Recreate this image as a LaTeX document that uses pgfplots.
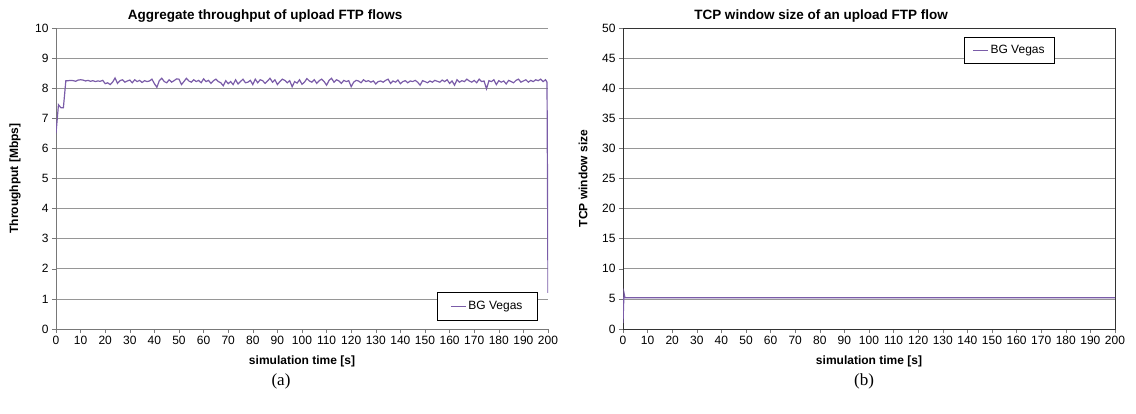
\documentclass[border=0pt]{standalone}
\usepackage{pgfplots}
\pgfplotsset{compat=1.18}
\usepackage{pgfplotstable}
\usepackage{fontspec}
\setmainfont{Liberation Sans}
\newfontfamily\seriffont{Liberation Serif}

\definecolor{vegas}{RGB}{122,92,168}
\definecolor{gridgray}{RGB}{150,150,150}
\definecolor{axgray}{RGB}{120,120,120}

% aggregate throughput [Mbps], 1 s samples
\pgfplotstableread{
t v
0 6.5
1 7.45
2 7.35
3 7.35
4 8.25
5 8.25
6 8.26
7 8.25
8 8.23
9 8.27
10 8.28
11 8.27
12 8.24
13 8.26
14 8.23
15 8.25
16 8.22
17 8.24
18 8.23
19 8.26
20 8.15
21 8.18
22 8.12
23 8.20
24 8.34
25 8.16
26 8.25
27 8.28
28 8.20
29 8.24
30 8.27
31 8.18
32 8.28
33 8.22
34 8.26
35 8.19
36 8.25
37 8.22
38 8.24
39 8.30
40 8.15
41 8.03
42 8.25
43 8.33
44 8.22
45 8.18
46 8.28
47 8.20
48 8.25
49 8.31
50 8.30
51 8.12
52 8.22
53 8.33
54 8.24
55 8.20
56 8.28
57 8.22
58 8.26
59 8.18
60 8.31
61 8.22
62 8.26
63 8.16
64 8.25
65 8.30
66 8.22
67 8.18
68 8.08
69 8.25
70 8.15
71 8.22
72 8.12
73 8.28
74 8.14
75 8.22
76 8.30
77 8.18
78 8.20
79 8.26
80 8.12
81 8.30
82 8.18
83 8.28
84 8.25
85 8.16
86 8.24
87 8.33
88 8.20
89 8.28
90 8.12
91 8.22
92 8.30
93 8.26
94 8.18
95 8.25
96 8.05
97 8.22
98 8.17
99 8.28
100 8.13
101 8.20
102 8.32
103 8.24
104 8.20
105 8.28
106 8.16
107 8.25
108 8.30
109 8.22
110 8.10
111 8.26
112 8.33
113 8.20
114 8.28
115 8.24
116 8.16
117 8.26
118 8.22
119 8.25
120 8.05
121 8.20
122 8.26
123 8.24
124 8.18
125 8.28
126 8.22
127 8.25
128 8.20
129 8.24
130 8.14
131 8.22
132 8.24
133 8.20
134 8.26
135 8.30
136 8.16
137 8.24
138 8.20
139 8.27
140 8.15
141 8.22
142 8.25
143 8.18
144 8.24
145 8.22
146 8.26
147 8.20
148 8.10
149 8.25
150 8.22
151 8.18
152 8.24
153 8.20
154 8.26
155 8.23
156 8.20
157 8.27
158 8.22
159 8.28
160 8.16
161 8.24
162 8.10
163 8.28
164 8.20
165 8.25
166 8.22
167 8.30
168 8.24
169 8.20
170 8.26
171 8.18
172 8.30
173 8.22
174 8.24
175 7.98
176 8.25
177 8.22
178 8.28
179 8.12
180 8.25
181 8.20
182 8.24
183 8.14
184 8.26
185 8.22
186 8.18
187 8.26
188 8.30
189 8.20
190 8.24
191 8.28
192 8.20
193 8.26
194 8.22
195 8.28
196 8.25
197 8.30
198 8.22
199 8.28
199.6 8.20
200 1.2
}\throughput

% TCP window size
\pgfplotstableread{
t v
0 1.0
0.4 6.0
0.8 5.2
50 5.2
100 5.2
150 5.2
200 5.2
}\cwnd

\pgfplotsset{
  chartstyle/.style={
    scale only axis,
    width=492pt, height=301pt,
    xmin=0, xmax=200,
    xtick distance=10,
    ymin=0,
    xtick pos=bottom, ytick pos=left,
    tick align=outside,
    major tick length=4pt,
    tick style={axgray, line width=0.6pt},
    ymajorgrids,
    grid style={gridgray, line width=0.8pt},
    tick label style={font=\fontsize{12}{14}\selectfont},
    /pgf/number format/assume math mode=true,
    xlabel={\bfseries simulation time [s]},
    label style={font=\fontsize{12}{14}\selectfont},
    xlabel style={yshift=-4pt},
    legend image code/.code={\draw[##1] (0pt,0pt) -- (15pt,0pt);},
    legend style={draw=black, line width=0.8pt, fill=white,
      font=\fontsize{12}{14}\selectfont,
      /tikz/every even column/.append style={column sep=0pt}},
  },
}

\begin{document}
\begin{tikzpicture}
\useasboundingbox (0,0) rectangle (1136pt,413pt);

\begin{axis}[chartstyle,
  at={(56pt,84pt)}, anchor=south west,
  ymax=10, ytick distance=1,
  axis lines*=left,
  axis line style={axgray, line width=0.8pt},
  ylabel={\bfseries Throughput [Mbps]},
  ylabel style={at={(axis description cs:-0.0833,0.5)}, anchor=center},
  legend style={at={(0.774,0.027)}, anchor=south west,
    inner xsep=13pt, inner ysep=7pt},
]
\addplot[vegas, line width=1.2pt] table[x=t, y=v] {\throughput};
\addlegendentry{BG Vegas}
\end{axis}

\begin{axis}[chartstyle,
  at={(623pt,84pt)}, anchor=south west,
  ymax=50, ytick distance=5,
  axis line style={black!80, line width=0.8pt},
  ylabel={\bfseries TCP window size},
  ylabel style={at={(axis description cs:-0.0813,0.5)}, anchor=center},
  legend style={at={(0.693,0.970)}, anchor=north west,
    inner xsep=8pt, inner ysep=6pt},
]
\addplot[vegas, line width=1.2pt] table[x=t, y=v] {\cwnd};
\addlegendentry{BG Vegas}
\end{axis}

\node[font=\bfseries\fontsize{13.5}{15}\selectfont, anchor=base] at (265pt,393pt) {Aggregate throughput of upload FTP flows};
\node[font=\bfseries\fontsize{13.5}{15}\selectfont, anchor=base] at (821pt,393pt) {TCP window size of an upload FTP flow};
\node[font=\seriffont\fontsize{17}{19}\selectfont] at (281pt,32pt) {(a)};
\node[font=\seriffont\fontsize{17}{19}\selectfont] at (864pt,32pt) {(b)};
\end{tikzpicture}
\end{document}
